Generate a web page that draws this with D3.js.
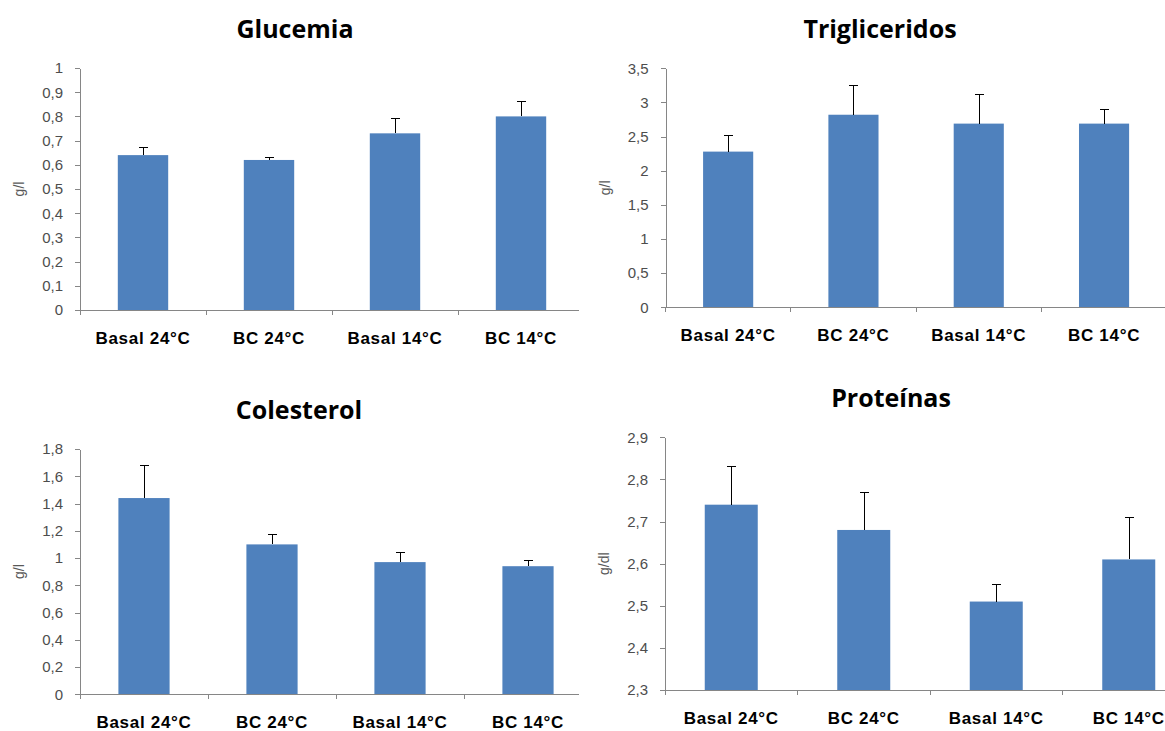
<!DOCTYPE html>
<html>
<head>
    <meta charset="utf-8">
    <title>Glucemia, Trigliceridos, Colesterol, Proteínas</title>
    <script src="https://d3js.org/d3.v7.min.js"></script>
    <style>
        body {
            margin: 0;
            background: #fff;
        }

        .title {
            font: bold 25px "Open Sans", sans-serif;
            text-anchor: middle;
            fill: #000;
        }

        .unit {
            font: 14px "Liberation Sans", Arial, sans-serif;
            fill: #595959;
            text-anchor: middle;
        }

        .cat {
            font: bold 17px "Liberation Sans", Arial, sans-serif;
            letter-spacing: 0.7px;
            text-anchor: middle;
            fill: #000;
        }

        .yaxis path,
        .yaxis line,
        .xline {
            stroke: #868686;
            stroke-width: 1px;
            shape-rendering: crispEdges;
        }

        .bar {
            fill: #4f81bd;
        }

        .err {
            stroke: #000;
            stroke-width: 1px;
            shape-rendering: crispEdges;
        }
    </style>
</head>

<body>
    <script>
        // data (mean and upper error)
        var categories = ["Basal 24°C", "BC 24°C", "Basal 14°C", "BC 14°C"];

        var glucemiaValues = [0.64, 0.62, 0.73, 0.80];
        var glucemiaErrors = [0.03, 0.01, 0.06, 0.06];
        var glucemiaTicks = [0, 0.1, 0.2, 0.3, 0.4, 0.5, 0.6, 0.7, 0.8, 0.9, 1];

        var trigliceridosValues = [2.28, 2.82, 2.69, 2.69];
        var trigliceridosErrors = [0.24, 0.43, 0.42, 0.20];
        var trigliceridosTicks = [0, 0.5, 1, 1.5, 2, 2.5, 3, 3.5];

        var colesterolValues = [1.44, 1.10, 0.97, 0.94];
        var colesterolErrors = [0.24, 0.07, 0.07, 0.045];
        var colesterolTicks = [0, 0.2, 0.4, 0.6, 0.8, 1, 1.2, 1.4, 1.6, 1.8];

        var proteinasValues = [2.74, 2.68, 2.51, 2.61];
        var proteinasErrors = [0.09, 0.09, 0.04, 0.10];
        var proteinasTicks = [2.3, 2.4, 2.5, 2.6, 2.7, 2.8, 2.9];

        var width = 1165, height = 731;

        var svg = d3.select("body").append("svg")
            .attr("width", width)
            .attr("height", height);

        // comma as decimal mark
        var locale = d3.formatLocale({ decimal: ",", thousands: ".", grouping: [3], currency: ["", " €"] });
        var fmt = locale.format("~g");

        // panel layout
        var panels = [
            { title: "Glucemia", unit: "g/l", values: glucemiaValues, errors: glucemiaErrors, ticks: glucemiaTicks,
              left: 80, step: 126, top: 68, bottom: 310, clip: 579, titleX: 295, titleY: 38 },
            { title: "Trigliceridos", unit: "g/l", values: trigliceridosValues, errors: trigliceridosErrors, ticks: trigliceridosTicks,
              left: 665.5, step: 125.3, top: 68.3, bottom: 307.3, clip: width, titleX: 880, titleY: 38 },
            { title: "Colesterol", unit: "g/l", values: colesterolValues, errors: colesterolErrors, ticks: colesterolTicks,
              left: 80, step: 128, top: 449, bottom: 694.3, clip: 579, titleX: 299, titleY: 419 },
            { title: "Proteínas", unit: "g/dl", values: proteinasValues, errors: proteinasErrors, ticks: proteinasTicks,
              left: 665, step: 132.5, top: 437.3, bottom: 690, clip: width, titleX: 891, titleY: 407 }
        ];

        panels.forEach(function (p, k) {
            var clipId = "clip" + k;
            svg.append("clipPath").attr("id", clipId)
                .append("rect")
                .attr("x", p.left - 90).attr("y", p.top - 80)
                .attr("width", p.clip - (p.left - 90)).attr("height", p.bottom - p.top + 130);

            var g = svg.append("g").attr("clip-path", "url(#" + clipId + ")");

            var x = d3.scaleBand()
                .domain(categories)
                .range([p.left, p.left + p.step * categories.length])
                .paddingInner(0.6)
                .paddingOuter(0.3);

            var y = d3.scaleLinear()
                .domain([p.ticks[0], p.ticks[p.ticks.length - 1]])
                .range([p.bottom, p.top]);

            g.append("text")
                .attr("class", "title")
                .attr("x", p.titleX)
                .attr("y", p.titleY)
                .text(p.title);

            g.append("text")
                .attr("class", "unit")
                .attr("transform", "translate(" + (p.left - 56) + "," + ((p.top + p.bottom) / 2) + ") rotate(-90)")
                .text(p.unit);

            // bars
            g.selectAll(".bar")
                .data(p.values)
                .enter().append("rect")
                .attr("class", "bar")
                .attr("x", function (d, i) { return x(categories[i]); })
                .attr("width", x.bandwidth())
                .attr("y", function (d) { return y(d); })
                .attr("height", function (d) { return y(p.ticks[0]) - y(d); });

            // error bars (upper only)
            var eb = g.selectAll(".eb")
                .data(p.values)
                .enter().append("g")
                .attr("class", "eb");

            eb.append("line")
                .attr("class", "err")
                .attr("x1", function (d, i) { return Math.round(x(categories[i]) + x.bandwidth() / 2) + 0.5; })
                .attr("x2", function (d, i) { return Math.round(x(categories[i]) + x.bandwidth() / 2) + 0.5; })
                .attr("y1", function (d) { return y(d); })
                .attr("y2", function (d, i) { return y(d + p.errors[i]); });

            eb.append("line")
                .attr("class", "err")
                .attr("x1", function (d, i) { return Math.round(x(categories[i]) + x.bandwidth() / 2) - 4; })
                .attr("x2", function (d, i) { return Math.round(x(categories[i]) + x.bandwidth() / 2) + 5; })
                .attr("y1", function (d, i) { return y(d + p.errors[i]); })
                .attr("y2", function (d, i) { return y(d + p.errors[i]); });

            // y axis
            var yAxis = g.append("g")
                .attr("class", "yaxis")
                .attr("transform", "translate(" + p.left + ",0)")
                .call(d3.axisLeft(y).tickValues(p.ticks).tickFormat(fmt).tickSize(5).tickSizeOuter(0).tickPadding(12));
            yAxis.selectAll("text")
                .style("font-family", "'Liberation Sans', Arial, sans-serif")
                .style("font-size", "15px")
                .style("fill", "#4d4d4d");

            // x axis line and category boundary ticks
            var x0 = x.range()[0], x1 = x.range()[1];
            g.append("line")
                .attr("class", "xline")
                .attr("x1", x0).attr("x2", x1)
                .attr("y1", y(p.ticks[0])).attr("y2", y(p.ticks[0]));

            var bounds = categories.map(function (c) { return x(c) - x.step() * x.paddingOuter(); }).concat([x1]);
            g.selectAll(".xtick")
                .data(bounds)
                .enter().append("line")
                .attr("class", "xline")
                .attr("x1", function (d) { return d; })
                .attr("x2", function (d) { return d; })
                .attr("y1", y(p.ticks[0]))
                .attr("y2", y(p.ticks[0]) + 5);

            g.selectAll(".cat")
                .data(categories)
                .enter().append("text")
                .attr("class", "cat")
                .attr("x", function (d) { return x(d) + x.bandwidth() / 2; })
                .attr("y", y(p.ticks[0]) + 33.5)
                .text(function (d) { return d; });
        });
    </script>
</body>

</html>
